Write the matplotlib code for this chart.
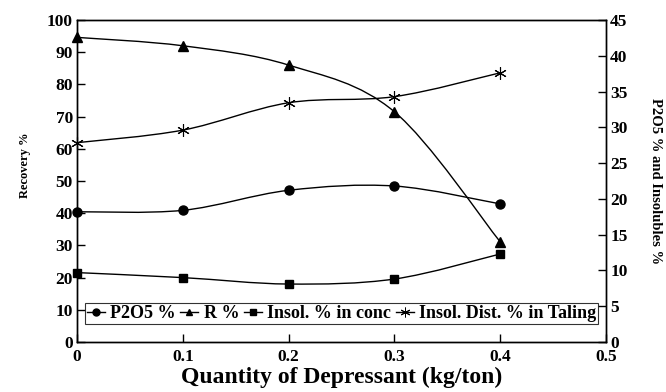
import numpy as np
import matplotlib
matplotlib.use("Agg")
import matplotlib.pyplot as plt
from matplotlib.path import Path
from matplotlib.patches import PathPatch
from matplotlib.lines import Line2D

plt.rcParams['font.family'] = ['Liberation Serif', 'DejaVu Serif']
plt.rcParams['font.weight'] = 'bold'

# data
depressant = [0.0, 0.1, 0.2, 0.3, 0.4]
p2o5_pct = [18.2, 18.4, 21.2, 21.8, 19.3]          # right axis
recovery_pct = [94.6, 92.0, 86.0, 71.5, 31.1]      # left axis
insol_conc_pct = [9.7, 9.0, 8.1, 8.8, 12.3]        # right axis
insol_dist_tail = [61.9, 65.8, 74.3, 76.2, 83.6]   # left axis

series_names = ["P2O5 %", "R %", "Insol. % in conc", "Insol. Dist. % in Taling"]


def smooth_path(x, y):
    # Excel-like smoothed line: cubic bezier segments through the points
    pts = np.column_stack([x, y]).astype(float)
    n = len(pts)
    verts = [pts[0]]
    codes = [Path.MOVETO]
    for i in range(n - 1):
        p_prev = pts[i - 1] if i > 0 else pts[i]
        p_next2 = pts[i + 2] if i + 2 < n else pts[i + 1]
        c1 = pts[i] + (pts[i + 1] - p_prev) / 6.0
        c2 = pts[i + 1] - (p_next2 - pts[i]) / 6.0
        verts += [c1, c2, pts[i + 1]]
        codes += [Path.CURVE4] * 3
    return Path(verts, codes)


def draw_series(ax, x, y, marker, ms, **kw):
    ax.add_patch(PathPatch(smooth_path(x, y), fill=False, ec='black', lw=1.0, zorder=3))
    ax.plot(x, y, linestyle='none', marker=marker, markersize=ms, color='black',
            zorder=4, clip_on=False, **kw)


fig = plt.figure(figsize=(6.66, 3.92), dpi=100)
ax = fig.add_axes([77 / 666, 1 - 342 / 392, 529 / 666, 322 / 392])
ax2 = ax.twinx()

draw_series(ax, depressant, recovery_pct, '^', 7)
draw_series(ax, depressant, insol_dist_tail, (6, 2, 0), 9, markeredgewidth=0.8)
draw_series(ax2, depressant, p2o5_pct, 'o', 6.5)
draw_series(ax2, depressant, insol_conc_pct, 's', 6)

ax.set_xlim(0, 0.5)
ax.set_ylim(0, 100)
ax2.set_ylim(0, 45)
ax.set_xticks(np.arange(0, 0.51, 0.1))
ax.set_xticklabels(["0", "0.1", "0.2", "0.3", "0.4", "0.5"])
ax.set_yticks(np.arange(0, 101, 10))
ax2.set_yticks(np.arange(0, 46, 5))

for a in (ax, ax2):
    a.tick_params(direction='in', length=6, width=1, labelsize=12.5, pad=3)
    for s in a.spines.values():
        s.set_linewidth(1.0)
ax.tick_params(axis='x', pad=5)

ax.set_xlabel("Quantity of Depressant (kg/ton)", fontsize=17, fontweight='bold', labelpad=1)
ax.set_ylabel("Recovery %", fontsize=9, fontweight='bold')
ax.yaxis.set_label_coords(-0.087, 0.55)
ax2.set_ylabel("P2O5 % and Insolubles %", fontsize=10.5, fontweight='bold', rotation=-90,
               va='center')
ax2.yaxis.set_label_coords(1.0945, 0.5)

handles = [
    Line2D([], [], color='black', lw=1, marker='o', markersize=5),
    Line2D([], [], color='black', lw=1, marker='^', markersize=5),
    Line2D([], [], color='black', lw=1, marker='s', markersize=5),
    Line2D([], [], color='black', lw=1, marker=(6, 2, 0), markersize=7, markeredgewidth=0.7),
]
leg = ax2.legend(handles, series_names, loc='lower left', ncol=4, mode='expand',
                 bbox_to_anchor=(0.015, 0.056, 0.97, 0.065), fontsize=13,
                 handlelength=1.0, handletextpad=0.3, columnspacing=0.6,
                 borderpad=0.1, borderaxespad=0, fancybox=False, frameon=True)
leg.get_frame().set_edgecolor('black')
leg.get_frame().set_linewidth(0.8)
leg.set_zorder(10)

fig.savefig("out.png", dpi=100)
